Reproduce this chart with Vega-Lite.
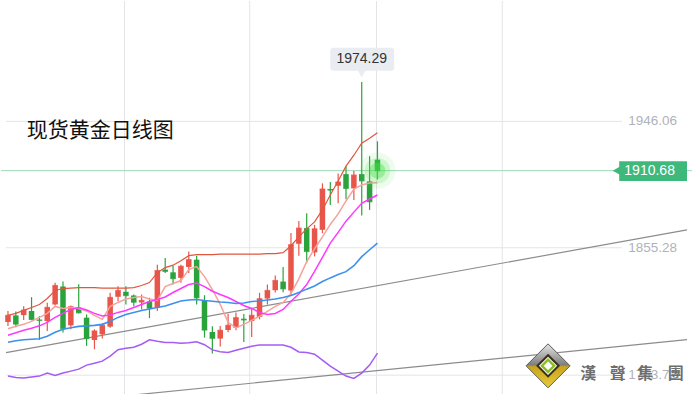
{
  "$schema": "https://vega.github.io/schema/vega-lite/v6.json",
  "width": 693,
  "height": 395,
  "padding": 0,
  "autosize": {"type": "fit", "contains": "padding"},
  "background": "#ffffff",
  "config": {"view": {"stroke": null}, "axis": {"disable": true}},
  "data": {"values": [{"one": 1}]},
  "datasets": {
    "k": [
      {"i":0,"o":1801.88,"h":1809.75,"l":1799.02,"c":1806.67,"up":1806.67,"m5":1797.02,"m10":1792.38,"m20":1787.37,"lo":1763.07},
      {"i":1,"o":1806.67,"h":1809.53,"l":1798.10,"c":1800.45,"up":1808.10,"m5":1798.81,"m10":1794.17,"m20":1788.45,"lo":1762.00},
      {"i":2,"o":1806.89,"h":1813.32,"l":1803.31,"c":1810.46,"up":1810.25,"m5":1800.24,"m10":1795.95,"m20":1789.16,"lo":1761.64},
      {"i":3,"o":1809.75,"h":1819.75,"l":1803.10,"c":1803.81,"up":1812.39,"m5":1802.38,"m10":1797.38,"m20":1789.52,"lo":1762.36},
      {"i":4,"o":1803.60,"h":1806.17,"l":1789.02,"c":1803.10,"up":1814.54,"m5":1805.24,"m10":1799.17,"m20":1789.88,"lo":1763.07},
      {"i":5,"o":1802.60,"h":1815.75,"l":1795.45,"c":1812.39,"up":1818.82,"m5":1808.10,"m10":1801.67,"m20":1791.66,"lo":1765.22},
      {"i":6,"o":1814.54,"h":1830.05,"l":1813.82,"c":1828.12,"up":1824.54,"m5":1813.11,"m10":1805.24,"m20":1794.52,"lo":1763.43},
      {"i":7,"o":1827.40,"h":1830.98,"l":1794.31,"c":1797.17,"up":1825.97,"m5":1811.68,"m10":1808.10,"m20":1796.67,"lo":1765.22},
      {"i":8,"o":1799.53,"h":1813.82,"l":1796.67,"c":1812.89,"up":1826.33,"m5":1812.39,"m10":1810.96,"m20":1797.74,"lo":1766.65},
      {"i":9,"o":1812.18,"h":1829.05,"l":1808.10,"c":1808.60,"up":1826.69,"m5":1811.68,"m10":1812.39,"m20":1798.81,"lo":1768.07},
      {"i":10,"o":1805.03,"h":1807.39,"l":1784.73,"c":1790.02,"up":1826.69,"m5":1809.89,"m10":1810.60,"m20":1799.17,"lo":1770.93},
      {"i":11,"o":1789.02,"h":1796.67,"l":1782.37,"c":1795.45,"up":1826.69,"m5":1806.67,"m10":1808.10,"m20":1799.53,"lo":1772.36},
      {"i":12,"o":1793.09,"h":1800.95,"l":1790.02,"c":1799.53,"up":1826.33,"m5":1803.81,"m10":1806.32,"m20":1800.24,"lo":1773.79},
      {"i":13,"o":1798.60,"h":1822.90,"l":1797.88,"c":1819.54,"up":1826.33,"m5":1813.11,"m10":1807.03,"m20":1802.38,"lo":1777.37},
      {"i":14,"o":1820.04,"h":1827.62,"l":1816.89,"c":1824.54,"up":1826.33,"m5":1815.97,"m10":1808.82,"m20":1805.24,"lo":1782.01},
      {"i":15,"o":1823.61,"h":1827.62,"l":1814.54,"c":1820.97,"up":1826.33,"m5":1818.47,"m10":1810.25,"m20":1807.39,"lo":1783.09},
      {"i":16,"o":1820.97,"h":1821.68,"l":1813.32,"c":1816.18,"up":1826.69,"m5":1819.54,"m10":1812.39,"m20":1808.82,"lo":1783.80},
      {"i":17,"o":1815.97,"h":1821.68,"l":1810.96,"c":1817.40,"up":1828.12,"m5":1820.25,"m10":1814.54,"m20":1810.25,"lo":1785.95},
      {"i":18,"o":1816.68,"h":1819.33,"l":1804.74,"c":1811.89,"up":1830.26,"m5":1818.47,"m10":1816.68,"m20":1811.32,"lo":1789.16},
      {"i":19,"o":1812.18,"h":1843.13,"l":1809.75,"c":1838.84,"up":1837.41,"m5":1817.40,"m10":1818.11,"m20":1812.39,"lo":1788.09},
      {"i":20,"o":1839.55,"h":1847.92,"l":1837.20,"c":1838.34,"up":1840.98,"m5":1827.40,"m10":1819.90,"m20":1813.46,"lo":1787.16},
      {"i":21,"o":1837.62,"h":1842.41,"l":1828.83,"c":1833.12,"up":1842.77,"m5":1829.55,"m10":1823.11,"m20":1815.25,"lo":1787.16},
      {"i":22,"o":1833.62,"h":1843.13,"l":1830.05,"c":1841.91,"up":1845.99,"m5":1831.69,"m10":1825.97,"m20":1817.04,"lo":1786.66},
      {"i":23,"o":1841.48,"h":1852.63,"l":1837.20,"c":1846.70,"up":1849.56,"m5":1839.55,"m10":1828.83,"m20":1817.75,"lo":1787.02},
      {"i":24,"o":1846.70,"h":1849.56,"l":1814.54,"c":1819.33,"up":1850.28,"m5":1841.70,"m10":1829.90,"m20":1818.11,"lo":1787.73},
      {"i":25,"o":1817.40,"h":1821.18,"l":1790.73,"c":1796.17,"up":1850.28,"m5":1834.55,"m10":1827.40,"m20":1817.40,"lo":1785.59},
      {"i":26,"o":1794.74,"h":1798.81,"l":1779.30,"c":1790.23,"up":1850.28,"m5":1825.26,"m10":1824.04,"m20":1816.89,"lo":1781.87},
      {"i":27,"o":1790.02,"h":1799.02,"l":1784.30,"c":1795.95,"up":1850.63,"m5":1814.54,"m10":1821.68,"m20":1816.32,"lo":1780.58},
      {"i":28,"o":1796.17,"h":1807.89,"l":1794.52,"c":1799.53,"up":1850.63,"m5":1801.67,"m10":1819.54,"m20":1815.97,"lo":1780.01},
      {"i":29,"o":1797.88,"h":1808.82,"l":1795.95,"c":1805.03,"up":1850.63,"m5":1797.74,"m10":1816.68,"m20":1815.25,"lo":1781.66},
      {"i":30,"o":1804.31,"h":1807.75,"l":1787.59,"c":1803.46,"up":1850.63,"m5":1800.24,"m10":1813.82,"m20":1815.61,"lo":1783.09},
      {"i":31,"o":1802.60,"h":1811.68,"l":1791.16,"c":1806.67,"up":1850.63,"m5":1803.10,"m10":1811.68,"m20":1816.68,"lo":1784.52},
      {"i":32,"o":1805.60,"h":1822.90,"l":1803.81,"c":1818.61,"up":1850.63,"m5":1805.96,"m10":1808.82,"m20":1817.04,"lo":1785.44},
      {"i":33,"o":1818.82,"h":1828.83,"l":1814.54,"c":1824.54,"up":1850.99,"m5":1809.53,"m10":1807.39,"m20":1817.75,"lo":1785.44},
      {"i":34,"o":1824.76,"h":1835.27,"l":1823.11,"c":1831.69,"up":1850.99,"m5":1813.11,"m10":1808.10,"m20":1818.47,"lo":1785.44},
      {"i":35,"o":1830.98,"h":1841.48,"l":1823.33,"c":1825.76,"up":1851.71,"m5":1815.97,"m10":1810.96,"m20":1819.54,"lo":1785.44},
      {"i":36,"o":1824.54,"h":1865.79,"l":1821.18,"c":1857.42,"up":1856.71,"m5":1822.40,"m10":1816.89,"m20":1820.97,"lo":1783.80},
      {"i":37,"o":1858.14,"h":1874.58,"l":1849.56,"c":1869.36,"up":1863.14,"m5":1832.91,"m10":1822.04,"m20":1823.11,"lo":1780.44},
      {"i":38,"o":1869.36,"h":1880.08,"l":1844.34,"c":1852.63,"up":1868.86,"m5":1845.27,"m10":1828.83,"m20":1825.54,"lo":1780.01},
      {"i":39,"o":1851.92,"h":1871.72,"l":1849.06,"c":1868.86,"up":1873.86,"m5":1854.56,"m10":1838.34,"m20":1827.76,"lo":1778.80},
      {"i":40,"o":1868.15,"h":1901.53,"l":1865.79,"c":1897.45,"up":1882.44,"m5":1863.14,"m10":1848.35,"m20":1830.98,"lo":1774.51},
      {"i":41,"o":1897.45,"h":1902.46,"l":1886.02,"c":1896.74,"up":1893.16,"m5":1872.01,"m10":1858.64,"m20":1833.62,"lo":1770.22},
      {"i":42,"o":1899.81,"h":1908.68,"l":1887.23,"c":1902.46,"up":1903.17,"m5":1879.58,"m10":1866.36,"m20":1835.98,"lo":1766.65},
      {"i":43,"o":1908.17,"h":1913.89,"l":1890.09,"c":1897.95,"up":1913.89,"m5":1888.88,"m10":1874.36,"m20":1838.12,"lo":1763.07},
      {"i":44,"o":1897.95,"h":1910.53,"l":1889.59,"c":1907.46,"up":1921.76,"m5":1897.45,"m10":1880.87,"m20":1842.41,"lo":1761.43},
      {"i":45,"o":1908.17,"h":1974.29,"l":1878.51,"c":1903.38,"up":1930.33,"m5":1900.31,"m10":1887.23,"m20":1848.85,"lo":1765.22},
      {"i":46,"o":1902.96,"h":1921.04,"l":1882.44,"c":1888.37,"up":1933.91,"m5":1901.74,"m10":1890.30,"m20":1853.85,"lo":1770.93},
      {"i":47,"o":1918.54,"h":1931.76,"l":1904.39,"c":1910.68,"up":1937.84,"m5":1901.96,"m10":1893.16,"m20":1858.64,"lo":1779.51}
    ],
    "trend": [
      {"g":"a","i":-0.25,"p":1779.87},
      {"g":"a","i":86.375,"p":1868.15},
      {"g":"b","i":10,"p":1746.1},
      {"g":"b","i":86.375,"p":1789.23}
    ],
    "levels": [
      {"p":1946.06,"t":"1946.06"},
      {"p":1855.28,"t":"1855.28"},
      {"p":1763.72,"t":"1763.72"}
    ],
    "vgrid": [{"i":14.825},{"i":30.75},{"i":46.875},{"i":62.875}],
    "logo": [
      {"ch":"漢","i":73.8},
      {"ch":"聲","i":77.56},
      {"ch":"集","i":81.06},
      {"ch":"團","i":84.94}
    ]
  },
  "layer": [
    {
      "data": {"name": "vgrid"},
      "mark": {"type": "rule", "color": "#e4e4e8", "strokeWidth": 1},
      "encoding": {
        "x": {"field": "i", "type": "quantitative", "axis": null, "scale": {"domain": [-0.25, 86.375], "nice": false, "zero": false}}
      }
    },
    {
      "data": {"name": "levels"},
      "mark": {"type": "rule", "color": "#e4e4e8", "strokeWidth": 1},
      "encoding": {
        "y": {"field": "p", "type": "quantitative", "axis": null, "scale": {"domain": [1750.2, 2032.55], "nice": false, "zero": false}},
        "x": {"datum": -0.25, "type": "quantitative"},
        "x2": {"datum": 78.1}
      }
    },
    {
      "mark": {"type": "rule", "color": "#9fd8b8", "strokeWidth": 1},
      "encoding": {"y": {"datum": 1910.68, "type": "quantitative"}}
    },
    {
      "data": {"name": "trend"},
      "mark": {"type": "line", "color": "#8c8c8c", "strokeWidth": 1.2, "clip": true},
      "encoding": {
        "x": {"field": "i", "type": "quantitative"},
        "y": {"field": "p", "type": "quantitative"},
        "detail": {"field": "g"}
      }
    },
    {
      "data": {"name": "k"},
      "mark": {"type": "rule", "strokeWidth": 1.2},
      "encoding": {
        "x": {"field": "i", "type": "quantitative"},
        "y": {"field": "l", "type": "quantitative"},
        "y2": {"field": "h"},
        "color": {"condition": {"test": "datum.c > datum.o", "value": "#e8554a"}, "value": "#2ba33c"}
      }
    },
    {
      "data": {"name": "k"},
      "mark": {"type": "bar", "size": 5.5},
      "encoding": {
        "x": {"field": "i", "type": "quantitative"},
        "y": {"field": "o", "type": "quantitative"},
        "y2": {"field": "c"},
        "color": {"condition": {"test": "datum.c > datum.o", "value": "#e8554a"}, "value": "#2ba33c"}
      }
    },
    {
      "data": {"name": "k"},
      "mark": {"type": "tick", "orient": "horizontal", "size": 5.5, "thickness": 1.3},
      "encoding": {
        "x": {"field": "i", "type": "quantitative"},
        "y": {"field": "c", "type": "quantitative"},
        "color": {"condition": {"test": "datum.c > datum.o", "value": "#e8554a"}, "value": "#2ba33c"}
      }
    },
    {
      "data": {"name": "k"},
      "mark": {"type": "line", "color": "#e0573e", "strokeWidth": 1.2},
      "encoding": {"x": {"field": "i", "type": "quantitative"}, "y": {"field": "up", "type": "quantitative"}}
    },
    {
      "data": {"name": "k"},
      "mark": {"type": "line", "color": "#f6a29b", "strokeWidth": 1.5},
      "encoding": {"x": {"field": "i", "type": "quantitative"}, "y": {"field": "m5", "type": "quantitative"}}
    },
    {
      "data": {"name": "k"},
      "mark": {"type": "line", "color": "#ff38ff", "strokeWidth": 1.5},
      "encoding": {"x": {"field": "i", "type": "quantitative"}, "y": {"field": "m10", "type": "quantitative"}}
    },
    {
      "data": {"name": "k"},
      "mark": {"type": "line", "color": "#3d90f0", "strokeWidth": 1.6},
      "encoding": {"x": {"field": "i", "type": "quantitative"}, "y": {"field": "m20", "type": "quantitative"}}
    },
    {
      "data": {"name": "k"},
      "mark": {"type": "line", "color": "#a35cf5", "strokeWidth": 1.5},
      "encoding": {"x": {"field": "i", "type": "quantitative"}, "y": {"field": "lo", "type": "quantitative"}}
    },
    {
      "mark": {"type": "point", "filled": true, "size": 1300, "color": "#4be04b", "opacity": 0.1},
      "encoding": {"x": {"datum": 47, "type": "quantitative"}, "y": {"datum": 1910.68, "type": "quantitative"}}
    },
    {
      "mark": {"type": "point", "filled": true, "size": 650, "color": "#4be04b", "opacity": 0.2},
      "encoding": {"x": {"datum": 47, "type": "quantitative"}, "y": {"datum": 1910.68, "type": "quantitative"}}
    },
    {
      "mark": {"type": "point", "filled": true, "size": 250, "color": "#4be04b", "opacity": 0.4},
      "encoding": {"x": {"datum": 47, "type": "quantitative"}, "y": {"datum": 1910.68, "type": "quantitative"}}
    },
    {
      "data": {"name": "levels"},
      "mark": {"type": "text", "align": "left", "baseline": "middle", "fontSize": 13.5, "font": "Liberation Sans", "color": "#afb2bc"},
      "encoding": {
        "x": {"datum": 78.9, "type": "quantitative"},
        "y": {"field": "p", "type": "quantitative"},
        "text": {"field": "t"}
      }
    },
    {
      "mark": {"type": "rect", "color": "#3fb87c"},
      "encoding": {
        "x": {"datum": 77.75, "type": "quantitative"},
        "x2": {"datum": 86.375},
        "y": {"datum": 1917.46, "type": "quantitative"},
        "y2": {"datum": 1903.17}
      }
    },
    {
      "mark": {"type": "point", "shape": "triangle-left", "filled": true, "size": 110, "color": "#3fb87c", "opacity": 1},
      "encoding": {"x": {"datum": 77.5, "type": "quantitative"}, "y": {"datum": 1910.68, "type": "quantitative"}}
    },
    {
      "mark": {"type": "text", "align": "left", "baseline": "middle", "fontSize": 14, "font": "Liberation Sans", "color": "#ffffff"},
      "encoding": {
        "x": {"datum": 78.4, "type": "quantitative"},
        "y": {"datum": 1910.68, "type": "quantitative"},
        "text": {"value": "1910.68"}
      }
    },
    {
      "mark": {"type": "rect", "color": "#e9ecf0", "cornerRadius": 3},
      "encoding": {
        "x": {"datum": 41, "type": "quantitative"},
        "x2": {"datum": 49.125},
        "y": {"datum": 1998.95, "type": "quantitative"},
        "y2": {"datum": 1982.51}
      }
    },
    {
      "mark": {"type": "point", "shape": "triangle-down", "filled": true, "size": 80, "color": "#e9ecf0", "opacity": 1},
      "encoding": {"x": {"datum": 45, "type": "quantitative"}, "y": {"datum": 1980.6, "type": "quantitative"}}
    },
    {
      "mark": {"type": "text", "align": "center", "baseline": "middle", "fontSize": 14, "font": "Liberation Sans", "color": "#333333"},
      "encoding": {
        "x": {"datum": 45, "type": "quantitative"},
        "y": {"datum": 1990.73, "type": "quantitative"},
        "text": {"value": "1974.29"}
      }
    },
    {
      "mark": {"type": "text", "align": "left", "baseline": "middle", "fontSize": 21, "font": "Noto Sans CJK SC", "color": "#111111"},
      "encoding": {
        "x": {"datum": 2.4, "type": "quantitative"},
        "y": {"datum": 1938.9, "type": "quantitative"},
        "text": {"value": "现货黄金日线图"}
      }
    },
    {
      "mark": {"type": "point", "shape": "diamond", "filled": true, "size": 1936, "opacity": 1, "stroke": "#5a5a5a", "strokeWidth": 1,
        "fill": {"gradient": "linear", "x1": 0, "y1": 0, "x2": 0, "y2": 1, "stops": [
          {"offset": 0, "color": "#e6e6e6"},
          {"offset": 0.48, "color": "#7d7d7d"},
          {"offset": 0.52, "color": "#c9a41c"},
          {"offset": 1, "color": "#e9cb3c"}
        ]}},
      "encoding": {"x": {"datum": 68.7, "type": "quantitative"}, "y": {"datum": 1770.43, "type": "quantitative"}}
    },
    {
      "mark": {"type": "point", "shape": "diamond", "filled": true, "size": 576, "color": "#3b2e1a", "opacity": 1},
      "encoding": {"x": {"datum": 68.7, "type": "quantitative"}, "y": {"datum": 1770.43, "type": "quantitative"}}
    },
    {
      "mark": {"type": "point", "shape": "diamond", "filled": true, "size": 330, "color": "#ffffff", "opacity": 1},
      "encoding": {"x": {"datum": 68.7, "type": "quantitative"}, "y": {"datum": 1770.43, "type": "quantitative"}}
    },
    {
      "mark": {"type": "point", "shape": "diamond", "filled": false, "size": 150, "color": "#8cbf26", "strokeWidth": 2.5, "opacity": 1},
      "encoding": {"x": {"datum": 68.7, "type": "quantitative"}, "y": {"datum": 1770.43, "type": "quantitative"}}
    },
    {
      "data": {"name": "logo"},
      "mark": {"type": "text", "align": "center", "baseline": "middle", "fontSize": 16, "fontWeight": "bold", "font": "Noto Sans CJK TC", "color": "#6e6e6e"},
      "encoding": {
        "x": {"field": "i", "type": "quantitative"},
        "y": {"datum": 1764.5, "type": "quantitative"},
        "text": {"field": "ch"}
      }
    }
  ]
}
